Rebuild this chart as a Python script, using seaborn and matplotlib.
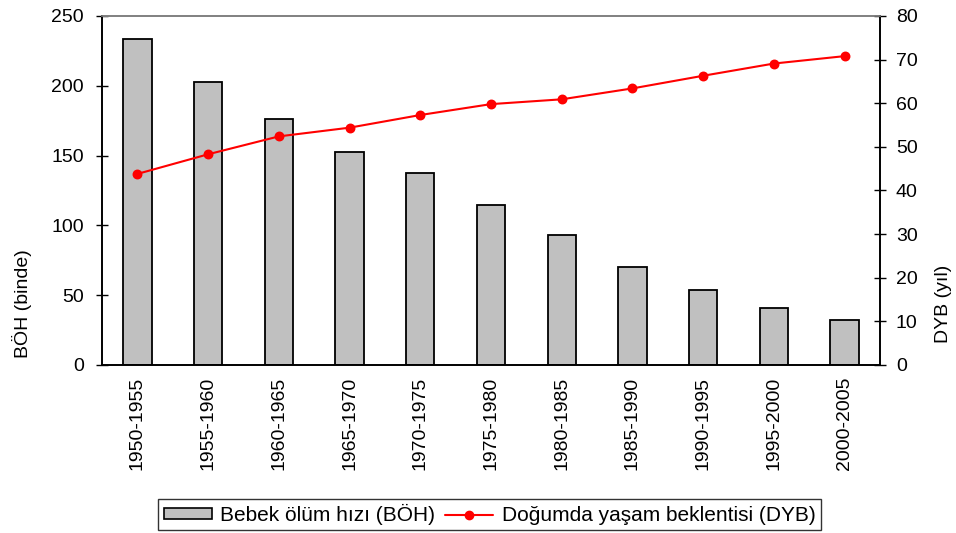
import matplotlib
matplotlib.use("Agg")
import matplotlib.pyplot as plt
import seaborn as sns
import numpy as np
import pandas as pd
from matplotlib.patches import Patch
from matplotlib.lines import Line2D
from matplotlib.ticker import FixedLocator

periods = ["1950-1955", "1955-1960", "1960-1965", "1965-1970", "1970-1975", "1975-1980",
           "1980-1985", "1985-1990", "1990-1995", "1995-2000", "2000-2005"]
boh = [233.3, 202.8, 176.1, 152.7, 137.7, 114.5, 93.1, 70.2, 53.5, 40.8, 32.0]
dyb = [43.8, 48.3, 52.4, 54.4, 57.3, 59.8, 60.9, 63.4, 66.3, 69.1, 70.8]
left_ticks = [0, 50, 100, 150, 200, 250]
right_ticks = [0, 10, 20, 30, 40, 50, 60, 70, 80]

sns.set_theme(style="white")
plt.rcParams['font.family'] = ['Liberation Sans', 'DejaVu Sans']
plt.rcParams['text.color'] = 'black'
plt.rcParams['axes.labelcolor'] = 'black'
plt.rcParams['xtick.color'] = 'black'
plt.rcParams['ytick.color'] = 'black'

FS = 14

df = pd.DataFrame({"period": periods, "boh": boh, "dyb": dyb})

fig = plt.figure(figsize=(9.56, 5.33), dpi=100)
ax = fig.add_axes([0.1067, 0.3152, 0.8138, 0.6548])

sns.barplot(data=df, x="period", y="boh", ax=ax, color="#c0c0c0", saturation=1,
            width=0.4, edgecolor="black", linewidth=1.3)
ax.set_ylim(0, 250)
ax.set_yticks(left_ticks)
ax.set_xlim(-0.5, len(periods) - 0.5)
ax.set_ylabel("BÖH (binde)", fontsize=FS)
ax.yaxis.set_label_coords(-0.09, 0.175)
ax.set_xlabel("")
ax.tick_params(axis="y", direction="inout", length=8, width=1, labelsize=FS, pad=9)
ax.tick_params(axis="x", which="major", length=0, labelsize=FS, rotation=90, pad=8.5)
ax.xaxis.set_minor_locator(FixedLocator(np.arange(0.5, len(periods) - 1, 1.0)))
ax.tick_params(axis="x", which="minor", direction="inout", length=8, width=1)

ax2 = ax.twinx()
sns.pointplot(data=df, x="period", y="dyb", ax=ax2, color="red", markers="o",
              markersize=6, linewidth=1.5)
ax2.set_ylim(0, 80)
ax2.set_yticks(right_ticks)
ax2.set_xlim(-0.5, len(periods) - 0.5)
ax2.set_ylabel("DYB (yıl)", fontsize=FS)
ax2.yaxis.set_label_coords(1.0707, 0.175)
ax2.tick_params(axis="y", direction="inout", length=8, width=1, labelsize=FS, pad=7.5)

for a in (ax, ax2):
    for s in ("left", "right", "bottom"):
        a.spines[s].set_color("black")
        a.spines[s].set_linewidth(1.2)
    a.spines["top"].set_color("#808080")
    a.spines["top"].set_linewidth(1.2)

handles = [Patch(facecolor="#c0c0c0", edgecolor="black", linewidth=1.2),
           Line2D([0], [0], color="red", marker="o", markersize=6, linewidth=1.5)]
labels = ["Bebek ölüm hızı (BÖH)", "Doğumda yaşam beklentisi (DYB)"]
leg = fig.legend(handles, labels, loc="center", bbox_to_anchor=(0.512, 0.0347), ncol=2,
                 frameon=True, fancybox=False, edgecolor="black", fontsize=15,
                 handlelength=2.3, handleheight=0.42, handletextpad=0.4,
                 columnspacing=0.5, borderpad=0.25, borderaxespad=0)
leg.get_frame().set_linewidth(1.0)

fig.savefig("out.png", dpi=100)
